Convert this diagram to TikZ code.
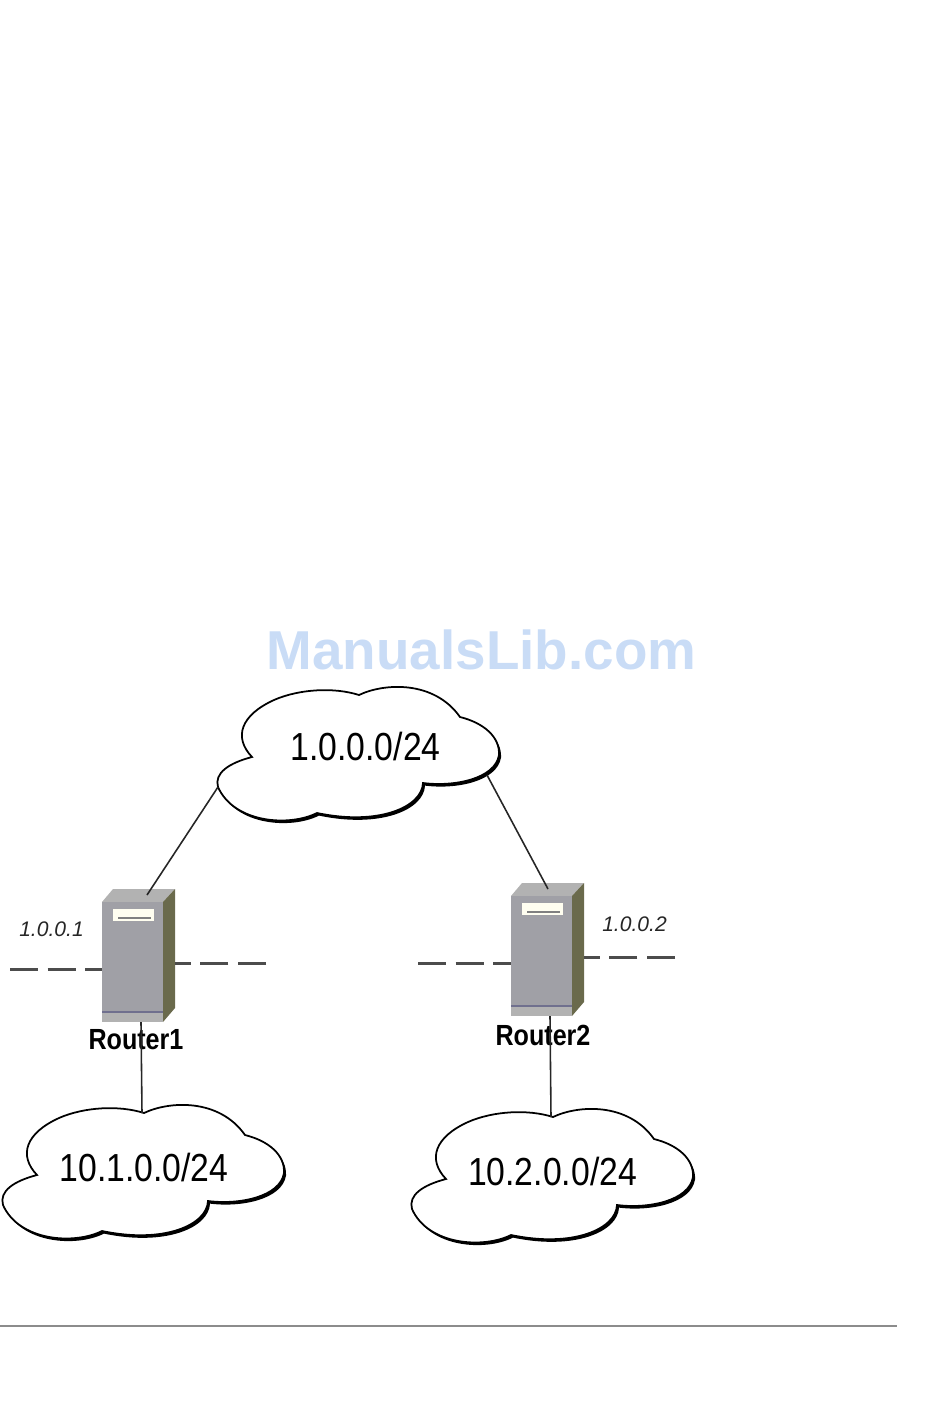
\documentclass[tikz,border=0pt]{standalone}
\usepackage{fontspec}
\setmainfont{Liberation Sans}
\usepackage{graphicx}
\usetikzlibrary{positioning}
\definecolor{markblue}{HTML}{C9DCF6}
\definecolor{frontgray}{HTML}{A0A0A6}
\definecolor{sidegray}{HTML}{6A6A4C}
\definecolor{topgray}{HTML}{B2B2B2}
\definecolor{baseblue}{HTML}{70708E}
\newcommand{\Tall}[1]{\scalebox{1}[1.16]{#1}}
\tikzset{netlabel/.style={font=\fontsize{19.2pt}{22pt}\selectfont,inner sep=0pt}}
\tikzset{routerlabel/.style={font=\fontsize{14.3pt}{16pt}\selectfont\bfseries,inner sep=0pt}}
\tikzset{iplabel/.style={font=\fontsize{12pt}{14pt}\selectfont\itshape,text=black!85,inner sep=0pt}}
\tikzset{link/.style={draw=black!85,line width=0.9pt}}
\tikzset{ifline/.style={draw=black!70,line width=1.7pt,dash pattern=on 16pt off 5.4pt}}
\tikzset{pics/netcloud/.style={code={
  \def\cloudpath{(0,0) .. controls (25,-12) and (75,-15) .. (101,22)
    .. controls (125,28) and (141,42) .. (140,60)
    .. controls (136,84) and (95,92) .. (64,88)
    .. controls (63,112) and (20,131) .. (-42,118)
    .. controls (-70,132) and (-125,128) .. (-141,92)
    .. controls (-145,78) and (-130,68) .. (-107,62)
    .. controls (-126,42) and (-118,20) .. (-85,5)
    .. controls (-60,-6) and (-25,-8) .. (0,0) -- cycle}
  \fill[black,shift={(2,2.6)}] \cloudpath;
  \draw[black,fill=white,line width=1pt] \cloudpath;
  \coordinate (-left) at (-141,92);
  \coordinate (-right) at (128,80);
  \coordinate (-top) at (-2,0);
}}}
\tikzset{pics/routerbox/.style={code={
  \fill[topgray] (0,0) -- (11,-13) -- (73,-13) -- (61,0) -- cycle;
  \fill[sidegray] (61,0) -- (73,-13) -- (73,106) -- (61,120) -- cycle;
  \fill[frontgray] (0,0) rectangle (61,120);
  \fill[topgray] (0,110) rectangle (61,120);
  \fill[baseblue] (0,109) rectangle (61,111);
  \fill[white!94!yellow] (11,7) rectangle (52,19);
  \fill[black!50] (16,14.5) rectangle (49,16.5);
  \coordinate (-up) at (45,-7);
  \coordinate (-down) at (39,120);
  \coordinate (-west) at (0,67);
  \coordinate (-east) at (73,61);
}}}
\begin{document}
\begin{tikzpicture}[x=0.02cm,y=-0.02cm]
\useasboundingbox (0,0) rectangle (950,1409);
%
\node (mark) [font=\fontsize{31.2pt}{36pt}\selectfont\bfseries,text=markblue,inner sep=0pt] at (481.5,650) {ManualsLib.com};
%
{
\pic (net1) at (359,695) {netcloud};
\pic (net2) at (144,1113) {netcloud};
\pic (net3) at (553,1117) {netcloud};
\node (label1) [netlabel] at (365.5,747) {\Tall{1.0.0.0/24}};
\node (label2) [netlabel] at (144,1167) {\Tall{10.1.0.0/24}};
\node (label3) [netlabel] at (552.5,1171) {\Tall{10.2.0.0/24}};
}
%
{
\pic (router1) at (102,902) {routerbox};
\pic (router2) at (511,896) {routerbox};
\node (name1) [routerlabel] at (136,1040) {\Tall{Router1}};
\node (name2) [routerlabel] at (543,1035) {\Tall{Router2}};
\node (ip1) [iplabel] at (51.5,929) {1.0.0.1};
\node (ip2) [iplabel] at (634.5,924) {1.0.0.2};
}
%
{
\coordinate (r2up) at (548,889);
\path[link](net1-left) edge (router1-up);
\path[link](net1-right) edge (r2up);
\path[link](router1-down) edge (net2-top);
\path[link](router2-down) edge (net3-top);
}
%
{
\coordinate (r1w) at (10,969);
\coordinate (r1e) at (266,963);
\coordinate (r2w) at (418,963);
\coordinate (r2e) at (675,957);
\path[ifline](r1w) edge (router1-west);
\path[ifline](r1e) edge (router1-east);
\path[ifline](r2w) edge (router2-west);
\path[ifline](r2e) edge (router2-east);
}
%
\coordinate (ruleA) at (0,1326);
\coordinate (ruleB) at (897,1326);
\path[draw=black!45,line width=0.6pt](ruleA) -- (ruleB);
\end{tikzpicture}
\end{document}
